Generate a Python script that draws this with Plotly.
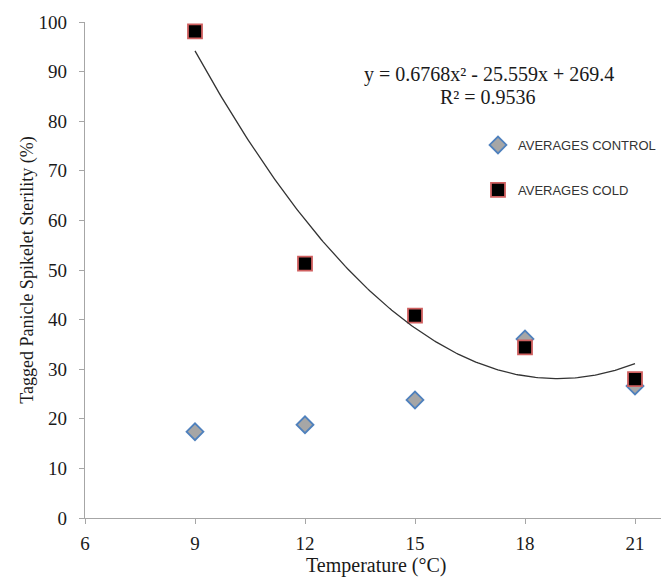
import numpy as np
import plotly.graph_objects as go

temperature = [9, 12, 15, 18, 21]
control = [17.4, 18.8, 23.8, 36.1, 26.6]
cold = [98.1, 51.3, 40.8, 34.4, 28.0]
trend_coef = [0.6768, -25.559, 269.4]  # y = a x^2 + b x + c (shown on chart)
x_ticks = [6, 9, 12, 15, 18, 21]
y_ticks = [0, 10, 20, 30, 40, 50, 60, 70, 80, 90, 100]

xt = np.linspace(min(temperature), max(temperature), 200)
yt = np.polyval(trend_coef, xt)

# the page body has an 8px margin: work in page pixels, shift into figure pixels
O = 8
PL, PR, PT, PB = 85, 677, 22, 518       # plot area in page pixels (x axis runs past the window edge)
W, H = 677 - O, 577 - O
L, R, T, B = PL - O, PR - O, PT - O, PB - O

fig = go.Figure()
fig.add_trace(go.Scatter(
    x=temperature, y=control, mode="markers", name="AVERAGES CONTROL",
    legendgroup="a",
    marker=dict(symbol="diamond", size=13, color="#a6a6a6",
                line=dict(color="#4f81bd", width=1.8)),
))
fig.add_trace(go.Scatter(
    x=temperature, y=cold, mode="markers", name="AVERAGES COLD",
    legendgroup="b",
    marker=dict(symbol="square", size=14, color="#000000",
                line=dict(color="#d06060", width=1.8)),
))
fig.add_trace(go.Scatter(
    x=xt, y=yt, mode="lines", showlegend=False, hoverinfo="skip",
    line=dict(color="#333333", width=1.3),
))

serif = "Liberation Serif"
def px_x(p):
    return (p - PL) / (PR - PL)
def px_y(p):
    return (PB - p) / (PB - PT)

fig.update_layout(
    width=W, height=H,
    margin=dict(l=L, r=W - R, t=T, b=H - B, pad=0),
    paper_bgcolor="white", plot_bgcolor="white",
    font=dict(family=serif, size=19, color="#1a1a1a"),
    showlegend=True,
    legend=dict(
        x=px_x(478), y=px_y(130), xanchor="left", yanchor="top",
        font=dict(family="Liberation Sans", size=13, color="#333333"),
        tracegroupgap=25, traceorder="grouped",
        bgcolor="rgba(0,0,0,0)", itemwidth=30,
    ),
    xaxis=dict(
        range=[6, 6 + (PR - PL) / (550 / 15)], tickvals=x_ticks,
        showgrid=False, zeroline=False, showline=True,
        linecolor="#a6a6a6", linewidth=1.3,
        ticks="outside", ticklen=5, tickcolor="#a6a6a6",
        ticklabelstandoff=3,
        tickfont=dict(family=serif, size=19),
    ),
    yaxis=dict(
        range=[0, 100], tickvals=y_ticks,
        showgrid=False, zeroline=False, showline=True,
        linecolor="#a6a6a6", linewidth=1.3,
        ticks="outside", ticklen=5, tickcolor="#a6a6a6",
        ticklabelstandoff=8,
        title=dict(text="Tagged Panicle Spikelet Sterility (%)", standoff=0,
                   font=dict(family=serif, size=18)),
        tickfont=dict(family=serif, size=19),
    ),
    annotations=[
        dict(x=px_x(489), y=px_y(75), xref="paper", yref="paper",
             xanchor="center", yanchor="middle", showarrow=False,
             text="y = 0.6768x² - 25.559x + 269.4",
             font=dict(family=serif, size=20, color="#1a1a1a")),
        dict(x=px_x(488), y=px_y(97), xref="paper", yref="paper",
             xanchor="center", yanchor="middle", showarrow=False,
             text="R² = 0.9536",
             font=dict(family=serif, size=20, color="#1a1a1a")),
        dict(x=px_x(376), y=px_y(565), xref="paper", yref="paper",
             xanchor="center", yanchor="middle", showarrow=False,
             text="Temperature (°C)",
             font=dict(family=serif, size=20, color="#1a1a1a")),
    ],
)

fig.write_html("out.html")
